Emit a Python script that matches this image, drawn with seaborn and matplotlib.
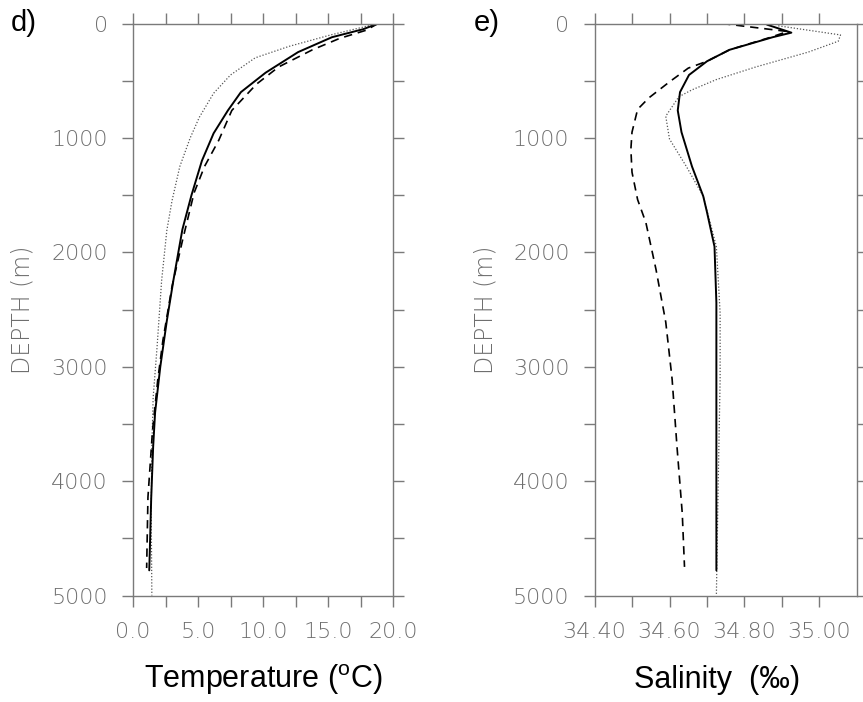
import pandas as pd
import numpy as np
import matplotlib.pyplot as plt
import seaborn as sns

# --- 1. Du lieu doc tu hinh ---
# Panel d: nhiet do theo do sau
temp_solid_depth = [0, 50, 120, 250, 430, 600, 760, 960, 1200, 1500, 1800, 2250, 2600, 3000, 3400, 3700, 4150, 4580, 4780]
temp_solid = [18.85, 17.7, 15.3, 12.7, 10.2, 8.3, 7.3, 6.2, 5.3, 4.5, 3.8, 3.1, 2.6, 2.1, 1.7, 1.55, 1.4, 1.3, 1.25]

temp_dash_depth = [0, 60, 130, 230, 380, 530, 760, 1020, 1250, 1480, 1900, 2300, 2770, 3120, 3560, 4140, 4760]
temp_dash = [18.85, 17.9, 15.9, 13.8, 11.2, 9.5, 7.6, 6.6, 5.5, 4.7, 3.8, 3.0, 2.3, 1.9, 1.5, 1.15, 1.05]

temp_dot_depth = [0, 100, 200, 300, 450, 610, 820, 1000, 1250, 1550, 1810, 2250, 2830, 3270, 3710, 4280, 5000]
temp_dot = [18.85, 15.2, 12.0, 9.4, 7.5, 6.2, 5.1, 4.4, 3.6, 3.0, 2.6, 2.2, 1.85, 1.55, 1.45, 1.4, 1.45]

# Panel e: do man theo do sau
sal_solid_depth = [10, 80, 120, 230, 330, 450, 600, 760, 950, 1250, 1510, 1650, 1950, 2440, 3100, 4280, 4780]
sal_solid = [34.86, 34.925, 34.875, 34.76, 34.70, 34.652, 34.628, 34.622, 34.632, 34.66, 34.69, 34.70, 34.72, 34.725, 34.725, 34.725, 34.725]

sal_dash_depth = [0, 70, 120, 230, 330, 390, 510, 650, 750, 950, 1100, 1300, 1540, 1740, 2150, 2610, 3110, 3700, 4280, 4750]
sal_dash = [34.74, 34.915, 34.87, 34.76, 34.70, 34.65, 34.60, 34.545, 34.515, 34.50, 34.497, 34.50, 34.515, 34.537, 34.564, 34.59, 34.607, 34.62, 34.634, 34.64]

sal_dot_depth = [20, 100, 155, 250, 380, 490, 580, 640, 810, 1010, 1250, 1510, 1950, 2530, 3110, 3990, 5000]
sal_dot = [34.89, 35.056, 35.05, 34.97, 34.83, 34.725, 34.66, 34.625, 34.59, 34.60, 34.645, 34.69, 34.725, 34.735, 34.735, 34.73, 34.725]

temp_ticklabels = ['0.0', '5.0', '10.0', '15.0', '20.0']
sal_ticklabels = ['34.40', '34.60', '34.80', '35.00']
depth_ticklabels = ['0', '1000', '2000', '3000', '4000', '5000']

# --- 2. Kieu ve ---
sns.set_style('ticks')
plt.rcParams['font.family'] = ['DejaVu Sans']
plt.rcParams['mathtext.fontset'] = 'custom'
plt.rcParams['mathtext.rm'] = 'Liberation Sans'

GREY = '#7a7a7a'
TICK_GREY = '#6e6e6e'
styles = {
    'solid': dict(color='black', lw=1.4, linestyle='-'),
    'dash': dict(color='black', lw=1.2, linestyle=(0, (5, 3.5))),
    'dot': dict(color='#555555', lw=0.9, linestyle=(0, (1, 1.5))),
}

fig = plt.figure(figsize=(8.63, 7.02), dpi=100)
H = 702.0
W = 863.0
ax_d = fig.add_axes([133 / W, (H - 595.5) / H, 260 / W, 572 / H])
ax_e = fig.add_axes([594.5 / W, (H - 595.5) / H, 262.5 / W, 572 / H])


def draw_profile(ax, depth, values, key):
    df = pd.DataFrame({'value': values, 'depth': depth})
    sns.lineplot(data=df, x='value', y='depth', sort=False, estimator=None,
                 ax=ax, **styles[key])


draw_profile(ax_d, temp_dot_depth, temp_dot, 'dot')
draw_profile(ax_d, temp_dash_depth, temp_dash, 'dash')
draw_profile(ax_d, temp_solid_depth, temp_solid, 'solid')

draw_profile(ax_e, sal_dot_depth, sal_dot, 'dot')
draw_profile(ax_e, sal_dash_depth, sal_dash, 'dash')
draw_profile(ax_e, sal_solid_depth, sal_solid, 'solid')


# --- 3. Truc va nhan ---
def style_axis(ax, xmajor, xminor, xlabels, xlim):
    ax.set_xlim(*xlim)
    ax.set_ylim(5000, 0)
    ax.set_xticks(xmajor)
    ax.set_xticklabels(xlabels)
    ax.set_xticks(xminor, minor=True)
    ax.set_yticks(np.arange(0, 5001, 1000))
    ax.set_yticklabels(depth_ticklabels)
    ax.set_yticks(np.arange(500, 5000, 1000), minor=True)
    for which in ('major', 'minor'):
        ax.tick_params(axis='both', which=which, direction='out', length=8,
                       width=1, color=GREY, top=True, right=True,
                       labeltop=False, labelright=False)
    ax.tick_params(axis='x', which='major', pad=11, labelsize=16,
                   labelcolor=TICK_GREY)
    ax.tick_params(axis='y', which='major', pad=10, labelsize=16,
                   labelcolor=TICK_GREY)
    for lab in ax.get_xticklabels() + ax.get_yticklabels():
        lab.set_fontweight(200)
    for sp in ax.spines.values():
        sp.set_color(GREY)
        sp.set_linewidth(1)
    ax.set_ylabel('DEPTH (m)', fontsize=17, color=TICK_GREY, fontweight=200)
    ax.yaxis.label.set_va('center')


style_axis(ax_d, [0, 5, 10, 15, 20], np.arange(2.5, 20, 5), temp_ticklabels, (0, 20))
style_axis(ax_e, [34.4, 34.6, 34.8, 35.0], [34.5, 34.7, 34.9], sal_ticklabels, (34.4, 35.1))

ax_d.set_xlabel('Temperature ($^{\\rm o}$C)', fontsize=22, family='Liberation Sans', color='black')
ax_e.set_xlabel('Salinity  (\u2030)', fontsize=22, family='Liberation Sans', color='black')
for ax in (ax_d, ax_e):
    ax.xaxis.label.set_va('center')
ax_d.xaxis.set_label_coords(0.5, -(680 - 595.5) / 572)
ax_e.xaxis.set_label_coords((717 - 594.5) / 262.5, -(680 - 595.5) / 572)
ax_d.yaxis.set_label_coords((23 - 133) / 260, 0.5)
ax_e.yaxis.set_label_coords((485 - 594.5) / 262.5, 0.5)

fig.text(11 / W, 1 - 23 / H, 'd)', fontsize=21, family='Liberation Sans', va='center', ha='left', color='black')
fig.text(474 / W, 1 - 23 / H, 'e)', fontsize=21, family='Liberation Sans', va='center', ha='left', color='black')

fig.savefig('out.png', dpi=100)
plt.close(fig)
